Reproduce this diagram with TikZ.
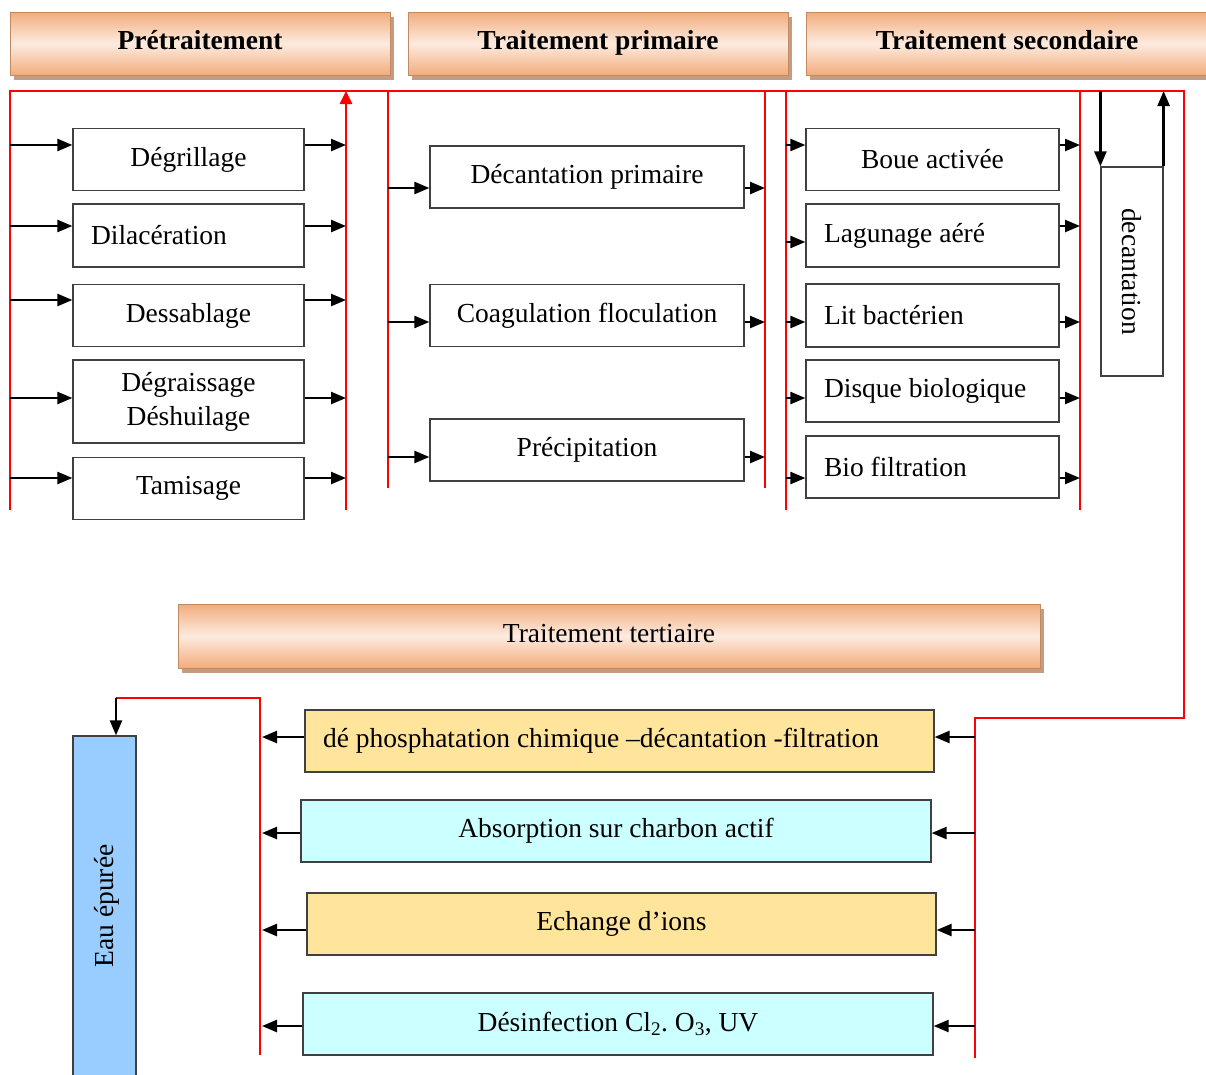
\documentclass[tikz,border=0pt]{standalone}
\usepackage{fontspec}
\setmainfont{Liberation Serif}
\usetikzlibrary{arrows.meta,shadows}
\definecolor{peach}{HTML}{F2AC7C}
\definecolor{peachlight}{HTML}{FDEBDF}
\definecolor{peachshadow}{HTML}{C49C82}
\definecolor{paleyellow}{HTML}{FFE49B}
\definecolor{palecyan}{HTML}{CCFFFF}
\definecolor{skyblue}{HTML}{99CCFF}
\frenchspacing
\begin{document}
\begin{tikzpicture}[x=1pt,y=-1pt,
        every node/.style={font=\fontsize{27.5}{34}\selectfont},
        head bar/.style={top color=peach, bottom color=peach, middle color=peachlight,
                         draw=peach!80!black, line width=.6pt, minimum height=63pt,
                         text height=20pt, text depth=8pt,
                         drop shadow={shadow xshift=4pt, shadow yshift=-5pt, fill=peachshadow, opacity=1}},
        stage box/.style={draw=black!75, line width=1.2pt, minimum height=62pt, inner sep=0pt},
        left text/.style={align=flush left, inner xsep=18pt},
        red line/.style={draw=red, line width=1.3pt},
        flow/.style={draw=black, line width=2.4pt, -{Triangle[length=15pt,width=12pt]}}]
  \useasboundingbox (0,0) rectangle (1206,1074);

  % bandeaux des etapes
  \node[head bar, minimum width=380pt, font=\fontsize{27.5}{34}\selectfont\bfseries] (hpre) at (200,43.5) {Prétraitement};
  \node[head bar, minimum width=380pt, font=\fontsize{27.5}{34}\selectfont\bfseries] (hpri) at (598,43.5) {Traitement primaire};
  \node[head bar, minimum width=402pt, font=\fontsize{27.5}{34}\selectfont\bfseries] (hsec) at (1007,43.5) {Traitement secondaire};
  \node[head bar, minimum width=862pt, minimum height=64pt] (hter) at (609,636) {Traitement tertiaire};

  % pretraitement
  \node[stage box, minimum width=231pt]                       (degr) at (188.5,159.5) {Dégrillage};
  \node[stage box, text width=195pt, left text, minimum height=63pt] (dila) at (188.5,235.5) {Dilacération};
  \node[stage box, minimum width=231pt]                       (dess) at (188.5,315.5) {Dessablage};
  \node[stage box, minimum width=231pt, minimum height=83pt, align=center] (dgrs) at (188.5,401.5) {Dégraissage\\Déshuilage};
  \node[stage box, minimum width=231pt]                       (tami) at (188.5,488.5) {Tamisage};

  % traitement primaire
  \node[stage box, minimum width=314pt] (dcpr) at (587,177)   {Décantation primaire};
  \node[stage box, minimum width=314pt] (coag) at (587,315.5) {Coagulation floculation};
  \node[stage box, minimum width=314pt] (prec) at (587,450)   {Précipitation};

  % traitement secondaire
  \node[stage box, minimum width=253pt]                       (boue) at (932.5,159.5) {Boue activée};
  \node[stage box, text width=217pt, left text, minimum height=63pt] (lagu) at (932.5,235.5) {Lagunage aéré};
  \node[stage box, text width=217pt, left text, minimum height=63pt] (litb) at (932.5,315.5) {Lit bactérien};
  \node[stage box, text width=217pt, left text]               (disq) at (932.5,391)   {Disque biologique};
  \node[stage box, text width=217pt, left text]               (biof) at (932.5,467)   {Bio filtration};
  \node[stage box, minimum width=209pt, minimum height=62pt, rotate=-90] (deca) at (1132,271.5) {decantation};

  % traitement tertiaire
  \node[stage box, fill=paleyellow, text width=593pt, left text] (phos) at (619.5,741) {dé phosphatation chimique –décantation -filtration};
  \node[stage box, fill=palecyan,   minimum width=630pt]         (absb) at (616,831)   {Absorption sur charbon actif};
  \node[stage box, fill=paleyellow, minimum width=629pt]         (echg) at (621.5,924) {Echange d’ions};
  \node[stage box, fill=palecyan,   minimum width=630pt]         (desf) at (618,1024)  {Désinfection Cl\textsubscript{2}. O\textsubscript{3}, UV};
  \node[stage box, fill=skyblue, minimum width=63pt, minimum height=360pt] (eaup) at (104.5,916) {};
  \node[rotate=90] (eaut) at (107,906) {Eau épurée};

  % lignes rouges
  \coordinate (rA) at (10,91);   \coordinate (rB) at (1184,91);
  \coordinate (rC) at (1184,718); \coordinate (rD) at (975,718);
  \coordinate (rE) at (975,1058); \coordinate (rF) at (10,510);
  \draw[red line] (rF) -- (rA) -- (rB) -- (rC) -- (rD) -- (rE);
  \coordinate (pA) at (388,91);  \coordinate (pB) at (765,91);
  \coordinate (sA) at (786,91);  \coordinate (sB) at (1080,91);
  \draw[red line] (pA) -- ++(0,397);
  \draw[red line] (pB) -- ++(0,397);
  \draw[red line] (sA) -- ++(0,419);
  \draw[red line] (sB) -- ++(0,419);
  \coordinate (up0) at (346,510); \coordinate (up1) at (346,91);
  \draw[red, line width=2.6pt, -{Triangle[length=13pt,width=12pt]}] (up0) -- (up1);
  \coordinate (tA) at (260,1055); \coordinate (tB) at (260,698); \coordinate (tC) at (116,698);
  \draw[red line] (tA) -- (tB) -- (tC);
  \draw[flow] (tC) -- (tC |- eaup.north);

  % fleches pretraitement
  \draw[flow] (10,145)  -- (degr.west |- 0,145);  \draw[flow] (degr.east |- 0,145) -- (346,145);
  \draw[flow] (10,226)  -- (dila.west |- 0,226);  \draw[flow] (dila.east |- 0,226) -- (346,226);
  \draw[flow] (10,300)  -- (dess.west |- 0,300);  \draw[flow] (dess.east |- 0,300) -- (346,300);
  \draw[flow] (10,398)  -- (dgrs.west |- 0,398);  \draw[flow] (dgrs.east |- 0,398) -- (346,398);
  \draw[flow] (10,478)  -- (tami.west |- 0,478);  \draw[flow] (tami.east |- 0,478) -- (346,478);

  % fleches primaire
  \draw[flow] (388,188) -- (dcpr.west |- 0,188);  \draw[flow] (dcpr.east |- 0,188) -- (765,188);
  \draw[flow] (388,322) -- (coag.west |- 0,322);  \draw[flow] (coag.east |- 0,322) -- (765,322);
  \draw[flow] (388,457) -- (prec.west |- 0,457);  \draw[flow] (prec.east |- 0,457) -- (765,457);

  % fleches secondaire
  \draw[flow] (786,145) -- (boue.west |- 0,145);  \draw[flow] (boue.east |- 0,145) -- (1080,145);
  \draw[flow] (786,242) -- (lagu.west |- 0,242);  \draw[flow] (lagu.east |- 0,226) -- (1080,226);
  \draw[flow] (786,322) -- (litb.west |- 0,322);  \draw[flow] (litb.east |- 0,322) -- (1080,322);
  \draw[flow] (786,398) -- (disq.west |- 0,398);  \draw[flow] (disq.east |- 0,398) -- (1080,398);
  \draw[flow] (786,478) -- (biof.west |- 0,478);  \draw[flow] (biof.east |- 0,478) -- (1080,478);
  \draw[flow] (deca.south west |- rA) -- (deca.south west);
  \draw[flow] (deca.north west) -- (deca.north west |- rB);

  % fleches tertiaire
  \draw[flow] (975,737)  -- (phos.east |- 0,737);  \draw[flow] (phos.west |- 0,737)  -- (262,737);
  \draw[flow] (975,833)  -- (absb.east |- 0,833);  \draw[flow] (absb.west |- 0,833)  -- (262,833);
  \draw[flow] (975,930)  -- (echg.east |- 0,930);  \draw[flow] (echg.west |- 0,930)  -- (262,930);
  \draw[flow] (975,1026) -- (desf.east |- 0,1026); \draw[flow] (desf.west |- 0,1026) -- (262,1026);
\end{tikzpicture}
\end{document}
